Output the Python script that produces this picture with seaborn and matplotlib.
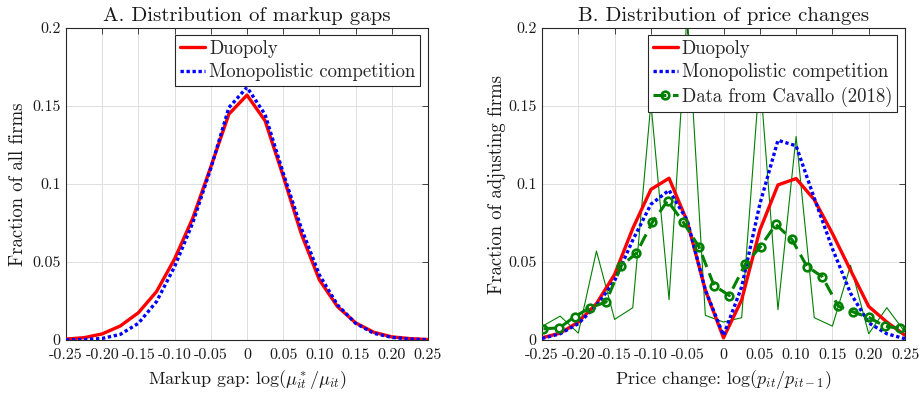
import matplotlib
matplotlib.use("Agg")
import matplotlib.pyplot as plt
import seaborn as sns
import numpy as np
import pandas as pd
from matplotlib.lines import Line2D

# ---------------- data ----------------
gap_x = [-0.25, -0.225, -0.2, -0.175, -0.15, -0.125, -0.1, -0.075, -0.05, -0.025, 0.0,
         0.025, 0.05, 0.075, 0.1, 0.125, 0.15, 0.175, 0.2, 0.225, 0.25]
gap_duopoly = [0.0006, 0.0015, 0.0039, 0.009, 0.0175, 0.031, 0.052, 0.078, 0.111, 0.1448, 0.157,
               0.1405, 0.105, 0.068, 0.0385, 0.0214, 0.011, 0.005, 0.002, 0.0009, 0.0003]
gap_monop = [0.0001, 0.0003, 0.001, 0.0036, 0.0107, 0.0246, 0.047, 0.075, 0.110, 0.149, 0.162,
             0.1445, 0.107, 0.0717, 0.0417, 0.0225, 0.0107, 0.0043, 0.0017, 0.0006, 0.0002]

pc_x = gap_x
pc_duopoly = [0.0014, 0.0044, 0.0115, 0.0233, 0.0420, 0.0715, 0.0965, 0.1037, 0.0760, 0.032, 0.0014,
              0.0257, 0.0704, 0.0994, 0.1035, 0.0900, 0.0683, 0.0447, 0.0215, 0.0115, 0.0030]
pc_monop = [0.0010, 0.0040, 0.0105, 0.0220, 0.0380, 0.0640, 0.0870, 0.0960, 0.0768, 0.032, 0.0030,
            0.0340, 0.0870, 0.1280, 0.1245, 0.0910, 0.0586, 0.0300, 0.0110, 0.0040, 0.0008]
raw_data = [0.0087, 0.0153, 0.0044, 0.0570, 0.0132, 0.0207, 0.1520, 0.0258, 0.2100, 0.0158, 0.0115,
            0.0143, 0.1700, 0.0194, 0.1305, 0.0143, 0.0089, 0.0479, 0.0040, 0.0207, 0.0050]

cav_x = [-0.248, -0.226, -0.205, -0.184, -0.162, -0.141, -0.120, -0.098, -0.077, -0.056, -0.034, -0.013,
         0.008, 0.030, 0.051, 0.072, 0.094, 0.115, 0.136, 0.158, 0.179, 0.200, 0.222, 0.243]
cav_y = [0.0072, 0.0078, 0.0149, 0.0207, 0.0243, 0.0475, 0.0556, 0.0755, 0.0892, 0.0759, 0.0599, 0.0349,
         0.0285, 0.0486, 0.0599, 0.0741, 0.0646, 0.0471, 0.0406, 0.0217, 0.0179, 0.0145, 0.0089, 0.0074]

xticks = [-0.25, -0.2, -0.15, -0.1, -0.05, 0, 0.05, 0.1, 0.15, 0.2, 0.25]
xticklabels = ["-0.25", "-0.20", "-0.15", "-0.10", "-0.05", "0", "0.05", "0.10", "0.15", "0.20", "0.25"]
yticks = [0, 0.05, 0.1, 0.15, 0.2]
yticklabels = ["0", "0.05", "0.1", "0.15", "0.2"]

# ---------------- style ----------------
sns.set_style("white")
plt.rcParams["font.family"] = ["cmr10", "DejaVu Serif"]
plt.rcParams["mathtext.fontset"] = "cm"
plt.rcParams["axes.unicode_minus"] = False
plt.rcParams["axes.formatter.use_mathtext"] = True

RED = "#ff0000"
BLUE = "#0000ff"
GREEN = "#008000"
DOT = (0, (1.0, 0.8))
DASH = (0, (4.2, 2.2))

fig = plt.figure(figsize=(9.19, 3.93), dpi=100)
axA = fig.add_axes([66 / 919, 53 / 393, 362 / 919, 312 / 393])
axB = fig.add_axes([542 / 919, 53 / 393, 363 / 919, 312 / 393])


def style_axes(ax, title, xlabel, ylabel, ylabx):
    ax.set_xlim(-0.25, 0.25)
    ax.set_ylim(0, 0.2)
    ax.set_xticks(xticks)
    ax.set_xticklabels(xticklabels)
    ax.set_yticks(yticks)
    ax.set_yticklabels(yticklabels)
    ax.tick_params(direction="in", top=True, right=True, length=4, width=0.6,
                   color="0.15", labelsize=11.5, labelcolor="0.1")
    ax.tick_params(axis="x", pad=6)
    ax.tick_params(axis="y", pad=4)
    ax.grid(True, color="0.87", lw=0.7)
    ax.set_axisbelow(True)
    for s in ax.spines.values():
        s.set_visible(True)
        s.set_color("0.15")
        s.set_linewidth(0.8)
    ax.set_title(title, fontsize=15, pad=5, color="0.1")
    ax.set_xlabel(xlabel, fontsize=13, color="0.1")
    ax.set_ylabel(ylabel, fontsize=13.5, color="0.1")
    ax.xaxis.set_label_coords(0.5, -0.09)
    ax.yaxis.set_label_coords(ylabx, 0.5)


def make_legend(ax, handles, labels):
    leg = ax.legend(handles, labels, loc="upper right", bbox_to_anchor=(0.978, 0.978),
                    borderaxespad=0, fontsize=13.5, frameon=True, fancybox=False, framealpha=1,
                    edgecolor="0.15", handlelength=1.35, handletextpad=0.2, labelspacing=0.3,
                    borderpad=0.25)
    leg.get_frame().set_linewidth(0.8)
    leg.set_zorder(10)
    return leg


# ---------- Panel A ----------
sns.lineplot(x=gap_x, y=gap_duopoly, ax=axA, color=RED, lw=2.4, estimator=None, sort=False, zorder=3)
sns.lineplot(x=gap_x, y=gap_monop, ax=axA, color=BLUE, lw=2.4, linestyle=DOT, estimator=None,
             sort=False, zorder=4)
style_axes(axA, "A. Distribution of markup gaps", r"Markup gap: $\log(\mu^*_{it}/\mu_{it})$",
           "Fraction of all firms", -0.108)
hA = [Line2D([], [], color=RED, lw=2.4),
      Line2D([], [], color=BLUE, lw=2.4, linestyle=DOT)]
make_legend(axA, hA, ["Duopoly", "Monopolistic competition"])

# ---------- Panel B ----------
sns.lineplot(x=pc_x, y=raw_data, ax=axB, color=GREEN, lw=0.8, estimator=None, sort=False, zorder=2)
sns.lineplot(x=pc_x, y=pc_duopoly, ax=axB, color=RED, lw=2.4, estimator=None, sort=False, zorder=3)
sns.lineplot(x=pc_x, y=pc_monop, ax=axB, color=BLUE, lw=2.4, linestyle=DOT, estimator=None,
             sort=False, zorder=4)
sns.lineplot(x=cav_x, y=cav_y, ax=axB, color=GREEN, lw=2.2, linestyle=DASH, marker="o",
             markersize=5.5, markerfacecolor="none", markeredgecolor=GREEN, markeredgewidth=1.9,
             estimator=None, sort=False, zorder=5)
style_axes(axB, "B. Distribution of price changes", r"Price change: $\log(p_{it}/p_{it-1})$",
           "Fraction of adjusting firms", -0.1)
hB = [Line2D([], [], color=RED, lw=2.4),
      Line2D([], [], color=BLUE, lw=2.4, linestyle=DOT),
      Line2D([], [], color=GREEN, lw=2.2, linestyle=DASH, marker="o", markersize=5.5,
             markerfacecolor="none", markeredgewidth=1.9)]
make_legend(axB, hB, ["Duopoly", "Monopolistic competition", "Data from Cavallo (2018)"])

fig.savefig("out.png", dpi=100)
